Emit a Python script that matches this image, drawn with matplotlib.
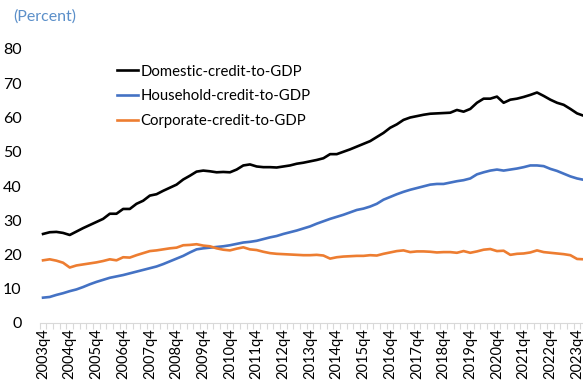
import numpy as np
import matplotlib
matplotlib.use("Agg")
import matplotlib.pyplot as plt
from matplotlib.ticker import FixedLocator

plt.rcParams['font.family'] = ['Lato', 'DejaVu Sans']

# quarterly series, 2003q4 .. 2024q1 (percent of GDP)
domestic = [
    26.0, 26.5, 26.6, 26.3, 25.7, 26.7, 27.7, 28.6, 29.5, 30.4,
    31.9, 31.9, 33.3, 33.3, 34.8, 35.7, 37.2, 37.6, 38.6, 39.5,
    40.4, 41.9, 43.0, 44.2, 44.5, 44.3, 44.0, 44.1, 44.0, 44.8,
    46.0, 46.3, 45.7, 45.5, 45.5, 45.4, 45.7, 46.0, 46.5, 46.8,
    47.2, 47.6, 48.1, 49.3, 49.3, 50.0, 50.7, 51.5, 52.3, 53.1,
    54.3, 55.5, 57.0, 58.0, 59.3, 60.0, 60.4, 60.8, 61.1, 61.2,
    61.3, 61.4, 62.2, 61.7, 62.5, 64.3, 65.5, 65.5, 66.1, 64.3,
    65.2, 65.5, 66.0, 66.6, 67.3, 66.3, 65.2, 64.3, 63.7, 62.5,
    61.2, 60.5,
]
household = [
    7.4, 7.6, 8.2, 8.7, 9.3, 9.8, 10.5, 11.3, 12.0, 12.6,
    13.2, 13.6, 14.0, 14.5, 15.0, 15.5, 16.0, 16.5, 17.2, 18.0,
    18.8, 19.6, 20.6, 21.5, 21.8, 22.0, 22.2, 22.4, 22.7, 23.1,
    23.5, 23.7, 24.0, 24.5, 25.0, 25.4, 26.0, 26.5, 27.0, 27.6,
    28.2, 29.0, 29.7, 30.4, 31.0, 31.6, 32.3, 33.0, 33.4, 34.0,
    34.8, 36.0, 36.8, 37.6, 38.3, 38.9, 39.4, 39.9, 40.4, 40.6,
    40.6, 41.0, 41.4, 41.7, 42.2, 43.4, 44.0, 44.5, 44.8, 44.5,
    44.8, 45.1, 45.5, 46.0, 46.0, 45.8, 45.0, 44.4, 43.6, 42.8,
    42.2, 41.8,
]
corporate = [
    18.3, 18.6, 18.2, 17.6, 16.2, 16.8, 17.1, 17.4, 17.7, 18.1,
    18.6, 18.3, 19.2, 19.1, 19.8, 20.4, 21.0, 21.2, 21.5, 21.8,
    22.0, 22.7, 22.8, 23.0, 22.6, 22.4, 21.8, 21.4, 21.2, 21.7,
    22.1, 21.5, 21.3, 20.8, 20.4, 20.2, 20.1, 20.0, 19.9, 19.8,
    19.8, 19.9, 19.7, 18.8, 19.2, 19.4, 19.5, 19.6, 19.6, 19.8,
    19.7, 20.2, 20.6, 21.0, 21.2, 20.7, 20.9, 20.9, 20.8, 20.6,
    20.7, 20.7, 20.5, 21.0, 20.5, 20.9, 21.4, 21.6, 21.0, 21.1,
    19.9, 20.2, 20.3, 20.6, 21.2, 20.7, 20.5, 20.3, 20.1, 19.8,
    18.7, 18.6,
]

# quarter labels starting at 2003q4
quarters = []
for i in range(len(domestic)):
    k = 3 + i
    quarters.append(f"{2003 + k // 4}q{k % 4 + 1}")

x = np.arange(len(domestic))

fig = plt.figure(figsize=(5.83, 3.8), dpi=100)
ax = fig.add_axes([39.7 / 583, 57 / 380, 1 - 39.7 / 583 + 0.007, 274 / 380])

ax.plot(x, domestic, color='black', lw=1.9, label='Domestic-credit-to-GDP')
ax.plot(x, household, color='#4472C4', lw=1.9, label='Household-credit-to-GDP')
ax.plot(x, corporate, color='#ED7D31', lw=1.9, label='Corporate-credit-to-GDP')

ax.set_xlim(-0.5, len(x) - 0.5)
ax.set_ylim(0, 80)
ax.set_yticks(np.arange(0, 81, 10))

major = x[::4]
ax.set_xticks(major)
ax.set_xticklabels([quarters[i] for i in major], rotation=90, fontsize=10.5)
ax.xaxis.set_minor_locator(FixedLocator(np.arange(-0.5, len(x), 1)))
ax.tick_params(axis='x', which='major', length=0, pad=4)
ax.tick_params(axis='x', which='minor', length=4, color='#D9D9D9', width=0.8)
ax.tick_params(axis='y', length=0, pad=13, labelsize=11.5)

for side in ['top', 'right', 'left']:
    ax.spines[side].set_visible(False)
ax.spines['bottom'].set_color('#D9D9D9')
ax.spines['bottom'].set_linewidth(0.8)

fig.text(13 / 583, 1 - 17 / 380, '(Percent)', color='#5B8FC9', fontsize=11.5, va='center')

leg = ax.legend(loc='upper left', bbox_to_anchor=(0.13, 0.965), frameon=False,
                fontsize=10.7, handlelength=1.45, handletextpad=0.15,
                labelspacing=0.72, borderaxespad=0)

fig.savefig('out.png', dpi=100)
